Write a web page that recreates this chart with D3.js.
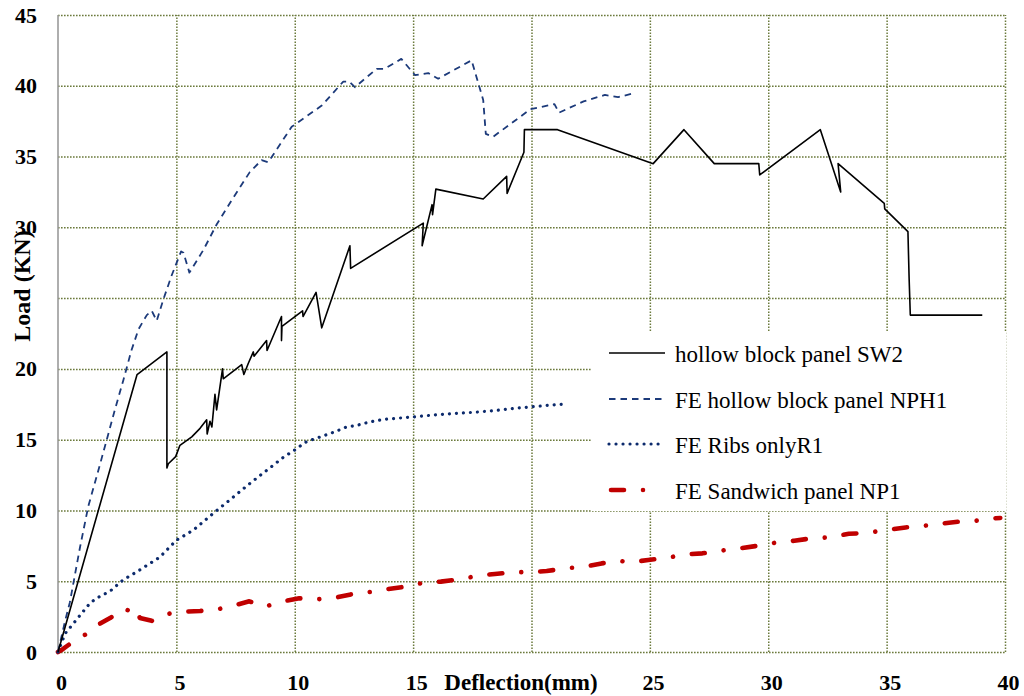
<!DOCTYPE html>
<html><head><meta charset="utf-8">
<script src="https://cdn.jsdelivr.net/npm/d3@7"></script>
<style>
html,body{margin:0;padding:0;background:#fff;}
svg{display:block;}
</style></head><body>
<svg id="chart" width="1024" height="696"></svg>
<script>
// ---------- data ----------
const xTicks = [0, 5, 10, 15, 20, 25, 30, 35, 40];
const yTicks = [0, 5, 10, 15, 20, 25, 30, 35, 40, 45];
const xTitle = "Deflection(mm)";
const yTitle = "Load (KN)";
const seriesNames = ["hollow block panel SW2", "FE hollow block panel NPH1", "FE Ribs onlyR1", "FE Sandwich panel NP1"];

const sw2 = [[0,0],[3.34,19.6],[4.6,21.2],[4.6,13.0],[4.66,13.3],[4.97,13.8],[5.15,14.6],[5.65,15.2],[6.0,15.8],[6.28,16.4],[6.3,15.4],[6.42,16.3],[6.5,15.9],[6.63,18.2],[6.7,17.1],[6.95,20.0],[6.98,19.3],[7.76,20.3],[7.85,19.6],[8.04,20.4],[8.25,21.2],[8.28,20.9],[8.81,22.0],[8.83,21.3],[9.44,23.7],[9.44,22.0],[9.46,23.0],[10.33,24.1],[10.35,23.7],[10.9,25.4],[11.14,22.9],[12.33,28.7],[12.36,27.1],[15.43,30.3],[15.38,28.7],[15.8,31.6],[15.82,30.9],[15.96,32.7],[17.96,32.0],[18.95,33.6],[18.97,32.4],[19.68,35.3],[19.7,36.9],[21.1,36.9],[25.14,34.5],[26.44,36.9],[27.72,34.5],[29.6,34.5],[29.64,33.7],[32.2,36.9],[33.06,32.5],[32.95,34.5],[34.9,31.7],[34.92,31.3],[35.9,29.7],[35.95,26.4],[36.0,23.8],[39.04,23.8]];

const nph1 = [[0,0],[0.3,2.2],[0.5,3.5],[0.93,7.4],[1.28,10.3],[1.7,12.8],[2.06,15.0],[2.4,17.1],[2.76,19.2],[3.1,21.3],[3.4,22.8],[3.75,23.8],[3.96,24.1],[4.17,23.4],[4.45,24.9],[4.8,26.6],[5.2,28.3],[5.3,28.2],[5.55,26.8],[6.14,28.4],[6.7,30.2],[7.33,31.9],[8.1,33.9],[8.6,34.75],[8.88,34.6],[9.87,37.1],[11.14,38.6],[12.05,40.3],[12.3,40.3],[12.54,39.9],[13.46,41.2],[13.8,41.2],[14.5,41.9],[15.08,40.75],[15.64,40.9],[16.06,40.5],[17.47,41.8],[17.96,39.0],[18.07,36.6],[18.38,36.4],[19.96,38.35],[20.97,38.7],[21.16,38.1],[22.2,38.9],[23.1,39.35],[23.66,39.2],[24.4,39.5]];

const r1 = [[0,0],[0.3,1.3],[0.79,2.3],[1.35,3.45],[1.63,3.8],[2.2,4.3],[2.76,5.1],[3.46,5.8],[4.3,6.7],[5.0,7.9],[5.71,8.6],[6.56,9.8],[7.3,10.8],[8.1,11.9],[9.52,13.75],[10.0,14.27],[10.43,14.8],[10.68,14.97],[11.18,15.25],[11.7,15.56],[12.19,15.9],[12.6,16.0],[13.18,16.26],[13.74,16.43],[14.23,16.5],[15.0,16.6],[15.85,16.74],[16.83,16.86],[17.54,16.93],[18.38,17.04],[19.23,17.2],[20.0,17.32],[20.78,17.44],[21.27,17.5]];

const np1 = [[0,0],[0.2,0.2],[0.65,0.75],[1.18,1.25],[1.66,1.9],[2.2,2.4],[2.76,3.05],[3.15,2.85],[3.2,2.6],[3.35,2.8],[3.46,2.4],[3.96,2.2],[4.66,2.7],[5.36,2.85],[6.0,2.9],[6.7,3.0],[7.4,3.27],[8.08,3.58],[8.74,3.2],[9.45,3.56],[10.19,3.79],[10.92,3.72],[11.63,3.81],[12.37,4.07],[13.18,4.24],[13.88,4.43],[14.67,4.62],[15.47,4.9],[16.17,4.97],[16.98,5.14],[17.75,5.39],[18.45,5.51],[19.26,5.65],[19.93,5.63],[20.64,5.72],[21.44,5.91],[22.26,6.03],[22.96,6.26],[23.76,6.43],[24.16,6.34],[24.93,6.5],[25.7,6.64],[26.48,6.9],[27.22,6.97],[28.0,7.16],[28.8,7.32],[29.53,7.5],[30.3,7.72],[31.1,7.86],[31.83,8.03],[32.6,8.1],[33.4,8.35],[34.1,8.4],[34.9,8.6],[35.8,8.8],[36.5,8.9],[37.2,9.04],[38.1,9.22],[38.8,9.28],[39.6,9.45],[39.8,9.47]];

// ---------- drawing ----------
const svg = d3.select("#chart");
const L = 58, R = 1005, T = 15, B = 652;
const x = d3.scaleLinear().domain([0, 40]).range([L, R]);
const y = d3.scaleLinear().domain([0, 45]).range([B, T]);

svg.append("rect").attr("width", 1024).attr("height", 696).attr("fill", "#fff");

const gridColor = "#6b7a3c";
// horizontal grid
const gy = svg.append("g").attr("transform", `translate(${L},0)`)
  .call(d3.axisLeft(y).tickValues(yTicks).tickSize(-(R - L)).tickFormat(""));
gy.select(".domain").remove();
gy.selectAll("line").attr("stroke", gridColor).attr("stroke-width", 1.5).attr("stroke-dasharray", "1.6,1.4");
// vertical grid
const gx = svg.append("g").attr("transform", `translate(0,${B})`)
  .call(d3.axisBottom(x).tickValues(xTicks.filter(v => v > 0)).tickSize(-(B - T)).tickFormat(""));
gx.select(".domain").remove();
gx.selectAll("line").attr("stroke", gridColor).attr("stroke-width", 1.5).attr("stroke-dasharray", "1.6,1.4");

// left solid axis line
svg.append("line").attr("x1", x(0)).attr("x2", x(0)).attr("y1", y(45)).attr("y2", y(0))
  .attr("stroke", "#9a9a9a").attr("stroke-width", 1.6);

// tick labels
const fontSerif = "'Liberation Serif','Times New Roman',Times,serif";
const ay = svg.append("g").attr("transform", `translate(${L},0)`)
  .call(d3.axisLeft(y).tickValues(yTicks.filter(v => v !== 25)).tickSize(0).tickPadding(21));
ay.select(".domain").remove();
ay.selectAll("text").attr("font-family", fontSerif).attr("font-weight", "bold").attr("font-size", 22).attr("fill", "#000");

const ax = svg.append("g").attr("transform", `translate(3,${B})`)
  .call(d3.axisBottom(x).tickValues(xTicks.filter(v => v !== 20)).tickSize(0).tickPadding(22));
ax.select(".domain").remove();
ax.selectAll("text").attr("font-family", fontSerif).attr("font-weight", "bold").attr("font-size", 22).attr("fill", "#000");

// axis titles
svg.append("text").attr("x", 521).attr("y", 690).attr("text-anchor", "middle")
  .attr("font-family", fontSerif).attr("font-weight", "bold").attr("font-size", 23).text(xTitle);

svg.append("rect").attr("x", 6).attr("y", 233).attr("width", 36).attr("height", 112).attr("fill", "#fff");
svg.append("text").attr("transform", "translate(30,286) rotate(-90)").attr("text-anchor", "middle")
  .attr("font-family", fontSerif).attr("font-weight", "bold").attr("font-size", 24).text(yTitle);

// series
const line = d3.line().x(d => x(d[0])).y(d => y(d[1]));
const styles = [
  {color: "#000000", width: 1.6, dash: null, cap: "butt"},
  {color: "#1c3a7a", width: 1.8, dash: "6.5,5", cap: "butt"},
  {color: "#0c2a6c", width: 3.2, dash: "0.01,7", cap: "round"},
  {color: "#c00000", width: 4.6, dash: "13,19,0.01,19", cap: "round"}
];
const allData = [sw2, nph1, r1, np1];
[3, 2, 1, 0].forEach(i => {
  const s = styles[i];
  svg.append("path").datum(allData[i]).attr("d", line)
    .attr("fill", "none").attr("stroke", s.color).attr("stroke-width", s.width)
    .attr("stroke-dasharray", s.dash).attr("stroke-linecap", s.cap).attr("stroke-linejoin", "round");
});

// legend
const lg = svg.append("g");
lg.append("rect").attr("x", 592).attr("y", 331).attr("width", 414).attr("height", 180).attr("fill", "#fff");
const rowY = [353, 399, 444, 490];
const lineEnd = [665, 665, 665, 647];
seriesNames.forEach((name, i) => {
  const s = styles[i];
  lg.append("line").attr("x1", i === 3 ? 611 : 609).attr("x2", lineEnd[i]).attr("y1", rowY[i]).attr("y2", rowY[i])
    .attr("stroke", s.color).attr("stroke-width", s.width)
    .attr("stroke-dasharray", s.dash).attr("stroke-linecap", s.cap);
  lg.append("text").attr("x", 675).attr("y", rowY[i] + 9)
    .attr("font-family", fontSerif).attr("font-size", 23).attr("fill", "#000").text(name);
});
</script>
</body></html>
